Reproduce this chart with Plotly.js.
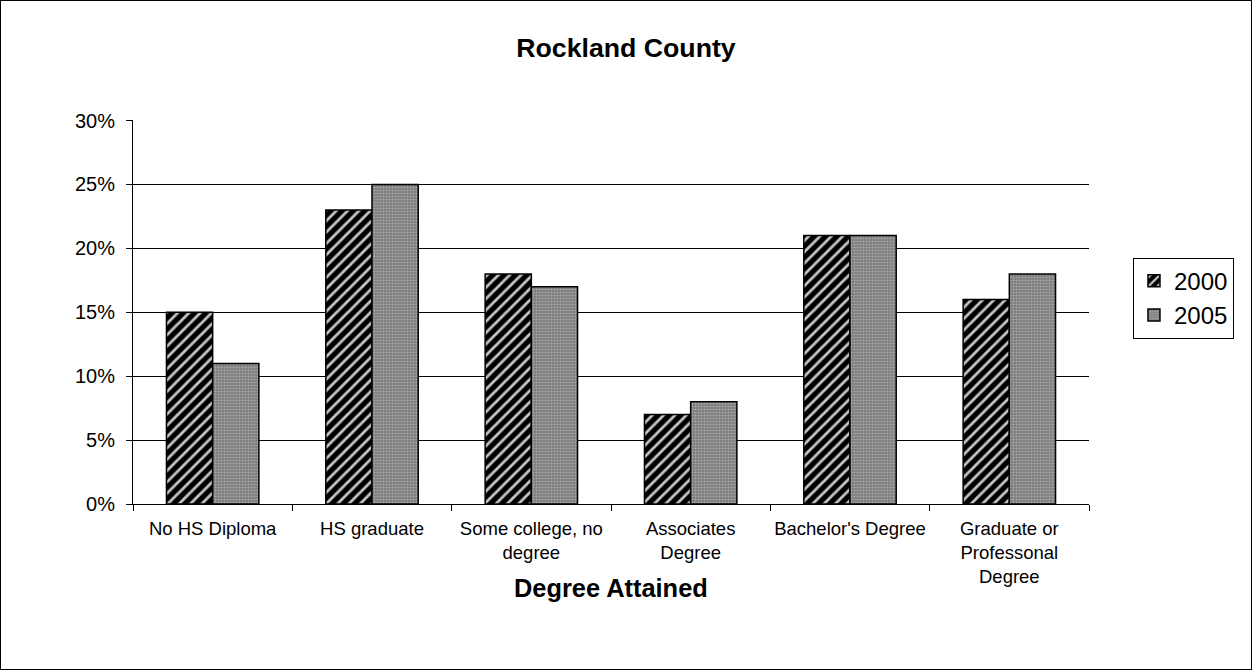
<!DOCTYPE html>
<html>
<head>
<meta charset="utf-8">
<script src="https://cdn.plot.ly/plotly-3.0.1.min.js"></script>
<style>
html,body{margin:0;padding:0;background:#fff;}
#chart{width:1250px;height:668px;border:1px solid #000;}
</style>
</head>
<body>
<div id="chart"></div>
<script>
const categories = ["No HS Diploma", "HS graduate", "Some college, no<br>degree", "Associates<br>Degree", "Bachelor's Degree", "Graduate or<br>Professonal<br>Degree"];
const values2000 = [0.15, 0.23, 0.18, 0.07, 0.21, 0.16];
const values2005 = [0.11, 0.25, 0.17, 0.08, 0.21, 0.18];
const yTickVals = [0, 0.05, 0.10, 0.15, 0.20, 0.25, 0.30];
const yTickText = ["0%", "5%", "10%", "15%", "20%", "25%", "30%"];
const xAxisTitle = "Degree Attained";

const font = {family: "Arial, Liberation Sans, sans-serif", color: "#000"};

const traces = [
  {
    type: "bar", name: "2000", x: categories, y: values2000,
    marker: {color: "#000", line: {color: "#000", width: 1.5},
      pattern: {shape: "/", bgcolor: "#000", fgcolor: "#c4c4c4", size: 8, solidity: 0.35, fillmode: "replace"}},
    hoverinfo: "none"
  },
  {
    type: "bar", name: "2005", x: categories, y: values2005,
    marker: {color: "#8c8c8c", line: {color: "#000", width: 1.5},
      pattern: {shape: ".", bgcolor: "#7c7c7c", fgcolor: "#a8a8a8", size: 3, solidity: 0.4, fillmode: "replace"}},
    hoverinfo: "none"
  }
];

const layout = {
  width: 1250, height: 668,
  margin: {l: 132, r: 162, t: 119, b: 165},
  paper_bgcolor: "#fff", plot_bgcolor: "#fff",
  font: font,
  title: {text: "<b>Rockland County</b>", font: {family: font.family, size: 26.7, color: "#000"}, x: 0.5, xref: "container", xanchor: "center", y: 0.93, yref: "container", yanchor: "middle"},
  bargap: 0.42, bargroupgap: 0,
  barmode: "group",
  showlegend: true,
  legend: {x: 1.046, xanchor: "left", y: 0.536, yanchor: "middle", bordercolor: "#000", borderwidth: 1,
    font: {family: font.family, size: 24, color: "#000"}, tracegroupgap: 0, itemwidth: 30},
  xaxis: {
    type: "category", showgrid: false, showline: true, linecolor: "#000", linewidth: 1,
    ticks: "outside", tickson: "boundaries", ticklen: 6, tickcolor: "#000",
    tickangle: 0, automargin: false,
    ticklabelstandoff: 8,
    tickfont: {family: font.family, size: 18.5, color: "#000"},
    fixedrange: true
  },
  yaxis: {
    range: [0, 0.3004], tickvals: yTickVals, ticktext: yTickText,
    showgrid: true, gridcolor: "#000", gridwidth: 1, zeroline: false,
    showline: true, linecolor: "#000", linewidth: 1,
    ticks: "outside", ticklen: 6, tickcolor: "#000",
    automargin: false,
    ticklabelstandoff: 7,
    tickfont: {family: font.family, size: 20, color: "#000"},
    fixedrange: true
  },
  annotations: [{
    text: "<b>" + xAxisTitle + "</b>", xref: "paper", yref: "paper", x: 0.5, y: -0.219,
    xanchor: "center", yanchor: "middle", showarrow: false,
    font: {family: font.family, size: 25.4, color: "#000"}
  }]
};

Plotly.newPlot("chart", traces, layout, {displayModeBar: false, staticPlot: true});
</script>
</body>
</html>
